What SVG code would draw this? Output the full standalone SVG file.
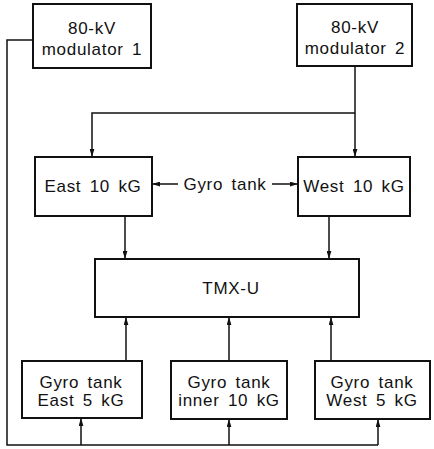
<svg xmlns="http://www.w3.org/2000/svg" width="434" height="449" viewBox="0 0 434 449">
<defs>
<style>
.box{fill:#fff;stroke:#111;stroke-width:2}
.t{font-family:"Liberation Sans",Arial,sans-serif;font-size:17px;letter-spacing:0.7px;word-spacing:3px;fill:#111;text-anchor:middle}
.c{fill:none;stroke:#111;stroke-width:1.5}
</style>
<marker id="ah" viewBox="0 0 10 6" refX="10" refY="3" markerWidth="8" markerHeight="5" markerUnits="userSpaceOnUse" orient="auto">
<path d="M0,0 L10,3 L0,6 Z" fill="#111"/>
</marker>
</defs>
<rect width="434" height="449" fill="#fff"/>
<g id="connectors">
<path class="c" d="M33,40 H7 V445 H378"/>
<path class="c" d="M81,445 V418" marker-end="url(#ah)"/>
<path class="c" d="M229,445 V419" marker-end="url(#ah)"/>
<path class="c" d="M378,445 V419" marker-end="url(#ah)"/>
<path class="c" d="M355,67 V157" marker-end="url(#ah)"/>
<path class="c" d="M355,113 H92 V157" marker-end="url(#ah)"/>
<path class="c" d="M178,184 H152" marker-end="url(#ah)"/>
<path class="c" d="M272,184 H298" marker-end="url(#ah)"/>
<path class="c" d="M125,216 V259" marker-end="url(#ah)"/>
<path class="c" d="M329,216 V259" marker-end="url(#ah)"/>
<path class="c" d="M126,361 V317" marker-end="url(#ah)"/>
<path class="c" d="M229,361 V317" marker-end="url(#ah)"/>
<path class="c" d="M331,361 V317" marker-end="url(#ah)"/>
</g>
<g id="mod1">
<rect class="box" x="33" y="4" width="118" height="64"/>
<text class="t" x="92" y="34">80-kV</text>
<text class="t" x="92" y="55">modulator 1</text>
</g>
<g id="mod2">
<rect class="box" x="297" y="4" width="115" height="62"/>
<text class="t" x="355" y="33">80-kV</text>
<text class="t" x="355" y="54">modulator 2</text>
</g>
<g id="east10">
<rect class="box" x="35" y="157" width="117" height="59"/>
<text class="t" x="93" y="192">East 10 kG</text>
</g>
<g id="gyrolabel">
<text class="t" x="225" y="190">Gyro tank</text>
</g>
<g id="west10">
<rect class="box" x="298" y="157" width="112" height="59"/>
<text class="t" x="354" y="192">West 10 kG</text>
</g>
<g id="tmx">
<rect class="box" x="95" y="259" width="264" height="58"/>
<text class="t" x="231" y="294">TMX-U</text>
</g>
<g id="east5">
<rect class="box" x="22" y="361" width="120" height="57"/>
<text class="t" x="81" y="388">Gyro tank</text>
<text class="t" x="81" y="406">East 5 kG</text>
</g>
<g id="inner10">
<rect class="box" x="171" y="361" width="116" height="58"/>
<text class="t" x="229" y="388">Gyro tank</text>
<text class="t" x="229" y="406">inner 10 kG</text>
</g>
<g id="west5">
<rect class="box" x="315" y="361" width="115" height="58"/>
<text class="t" x="372" y="388">Gyro tank</text>
<text class="t" x="372" y="406">West 5 kG</text>
</g>
</svg>
